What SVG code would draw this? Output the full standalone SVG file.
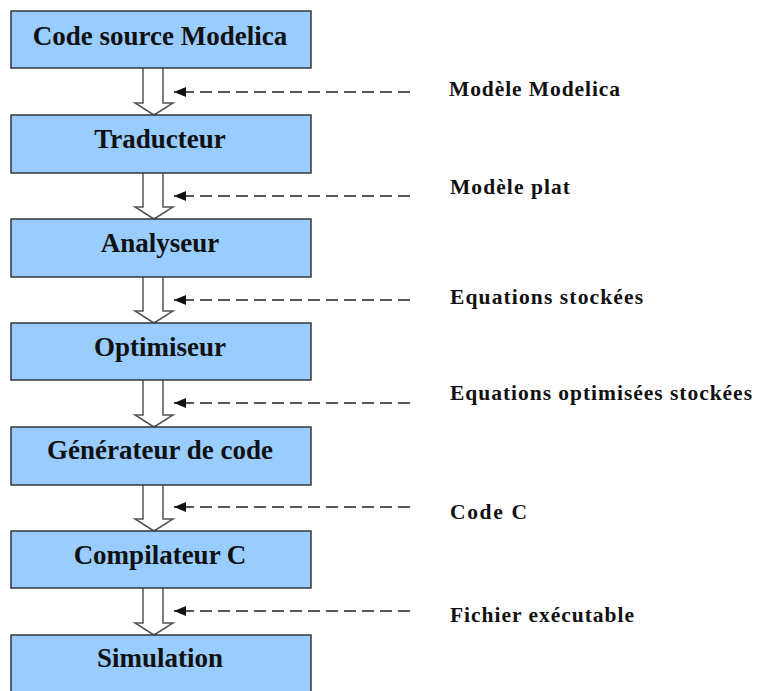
<svg xmlns="http://www.w3.org/2000/svg" width="757" height="691" viewBox="0 0 757 691">
<defs>
<style>
.box{fill:#99CCFF;stroke:#2a2a2a;stroke-width:1.4}
.bt{font-family:"Liberation Serif","Times New Roman",serif;font-weight:bold;font-size:27px;fill:#111;text-anchor:middle}
.lbl{font-family:"Liberation Serif","Times New Roman",serif;font-weight:bold;font-size:21.5px;fill:#111}
.blk{fill:#fff;stroke:#555;stroke-width:1.5;stroke-linejoin:miter}
.dash{stroke:#222;stroke-width:1.6;stroke-dasharray:12 6;fill:none}
</style>
<marker id="ah" markerWidth="12" markerHeight="10" refX="12" refY="5" orient="auto" markerUnits="userSpaceOnUse">
<path d="M0,0 L12,5 L0,10 Z" fill="#111"/>
</marker>
</defs>
<rect width="757" height="691" fill="#fff"/>
<g id="connectors">
<path class="blk" d="M143,68 V103 H135 L154,115 L173,103 H163 V68"/>
<path class="blk" d="M143,173 V207 H135 L154,219 L173,207 H163 V173"/>
<path class="blk" d="M143,277 V311 H135 L154,323 L173,311 H163 V277"/>
<path class="blk" d="M143,380 V415 H135 L154,427 L173,415 H163 V380"/>
<path class="blk" d="M143,485 V519 H135 L154,531 L173,519 H163 V485"/>
<path class="blk" d="M143,588 V623 H135 L154,635 L173,623 H163 V588"/>
<line class="dash" x1="410" y1="92" x2="174" y2="92" marker-end="url(#ah)"/>
<line class="dash" x1="410" y1="196" x2="174" y2="196" marker-end="url(#ah)"/>
<line class="dash" x1="410" y1="300" x2="174" y2="300" marker-end="url(#ah)"/>
<line class="dash" x1="410" y1="403" x2="174" y2="403" marker-end="url(#ah)"/>
<line class="dash" x1="410" y1="507" x2="174" y2="507" marker-end="url(#ah)"/>
<line class="dash" x1="410" y1="611" x2="174" y2="611" marker-end="url(#ah)"/>
</g>
<g id="node-code-source"><rect class="box" x="11" y="11" width="300" height="57"/><text class="bt" x="160" y="45">Code source Modelica</text></g>
<g id="node-traducteur"><rect class="box" x="11" y="115" width="300" height="58"/><text class="bt" x="160" y="148">Traducteur</text></g>
<g id="node-analyseur"><rect class="box" x="11" y="219" width="300" height="58"/><text class="bt" x="160" y="252">Analyseur</text></g>
<g id="node-optimiseur"><rect class="box" x="11" y="323" width="300" height="57"/><text class="bt" x="160" y="356">Optimiseur</text></g>
<g id="node-generateur"><rect class="box" x="11" y="427" width="300" height="58"/><text class="bt" x="160" y="459">Générateur de code</text></g>
<g id="node-compilateur"><rect class="box" x="11" y="531" width="300" height="57"/><text class="bt" x="160" y="564">Compilateur C</text></g>
<g id="node-simulation"><rect class="box" x="11" y="635" width="300" height="60"/><text class="bt" x="160" y="667">Simulation</text></g>
<g id="labels">
<text class="lbl" x="449" y="96" textLength="171" lengthAdjust="spacing">Modèle Modelica</text>
<text class="lbl" x="450" y="194" textLength="120" lengthAdjust="spacing">Modèle plat</text>
<text class="lbl" x="450" y="304" textLength="193" lengthAdjust="spacing">Equations stockées</text>
<text class="lbl" x="450" y="400" textLength="302" lengthAdjust="spacing">Equations optimisées stockées</text>
<text class="lbl" x="450" y="519" textLength="77" lengthAdjust="spacing">Code C</text>
<text class="lbl" x="450" y="622" textLength="184" lengthAdjust="spacing">Fichier exécutable</text>
</g>
</svg>
